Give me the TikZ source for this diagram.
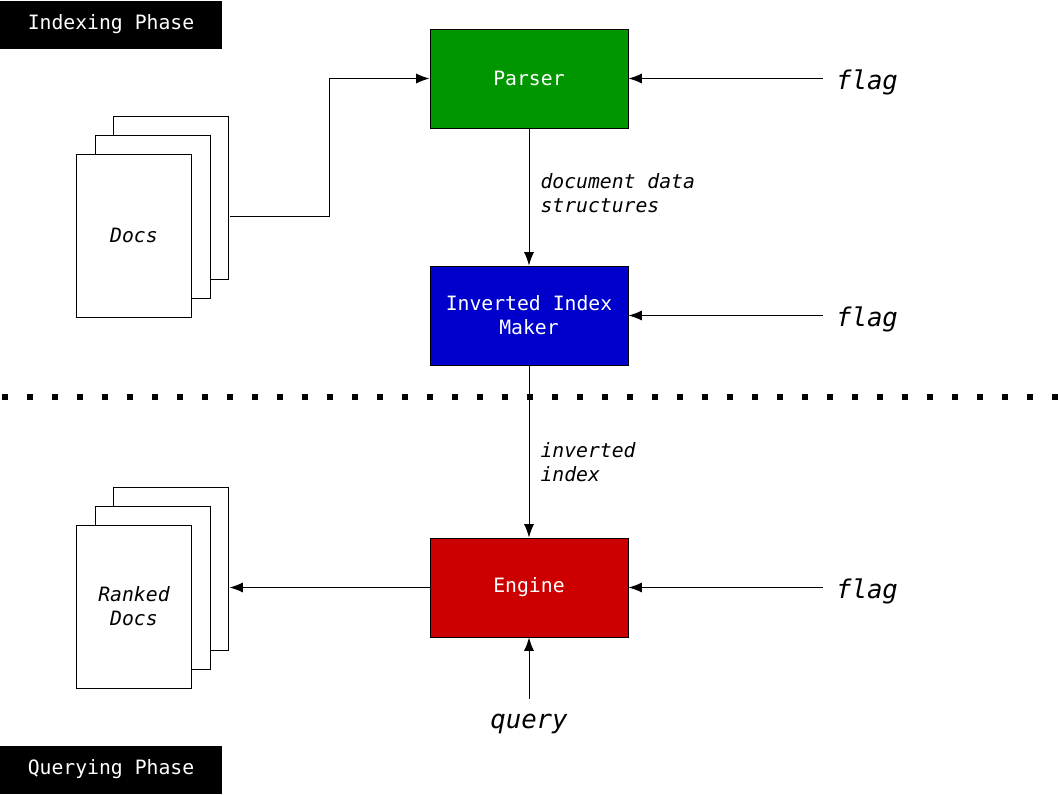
\documentclass[tikz,border=0pt]{standalone}
\usepackage{fontspec}
\setmainfont{DejaVu Sans Mono}
\usetikzlibrary{arrows.meta,fit}

\definecolor{parsergreen}{RGB}{0,150,0}
\definecolor{makerblue}{RGB}{0,0,204}
\definecolor{enginered}{RGB}{204,0,0}

\begin{document}
\begin{tikzpicture}[x=0.75pt, y=-0.75pt, line width=0.75pt,
  >={Latex[length=10pt,width=7.5pt]},
  box/.style={draw, minimum width=148.5pt, minimum height=74.25pt, text=white, align=center, font=\fontsize{14.8}{18}\selectfont},
  page/.style={draw, fill=white, minimum width=86.25pt, minimum height=122.25pt, inner sep=0pt, align=center, font=\fontsize{14.8}{18}\selectfont\itshape},
  phase/.style={fill=black, text=white, minimum width=165.75pt, minimum height=36pt, inner sep=0pt, font=\fontsize{14.8}{18}\selectfont},
  flagtext/.style={inner xsep=9.5pt, font=\fontsize{19.3}{23}\selectfont\itshape},
  lbl/.style={anchor=west, inner sep=0pt, xshift=8.25pt, align=left, font=\fontsize{14.8}{18}\selectfont\itshape}]
  \useasboundingbox (0,0) rectangle (1058,794);

  % Fases
  \node[phase, anchor=north west] (idx) at (0,0) {Indexing Phase};
  \node[phase, anchor=south west] (qry) at (0,794) {Querying Phase};
  \draw[line width=4.5pt, dash pattern=on 4.5pt off 14.25pt] (2,397) -- (1058,397);

  % Caixas
  \node[box, fill=parsergreen] (parser) at (529,78.5) {Parser};
  \node[box, fill=makerblue] (maker) at (529,315.5) {Inverted Index\\Maker};
  \node[box, fill=enginered] (engine) at (529,587.5) {Engine};

  % Documentos
  \node[page] (docsC) at (171,197.5) {};
  \node[page] (docsB) at (152.5,216.5) {};
  \node[page] (docsA) at (134,235.5) {Docs};
  \node[fit=(docsA)(docsC), inner sep=0pt] (docs) {};
  \node[page] (rankC) at (171,568.5) {};
  \node[page] (rankB) at (152.5,587.5) {};
  \node[page] (rankA) at (134,606.5) {Ranked\\Docs};
  \node[fit=(rankA)(rankC), inner sep=0pt] (ranked) {};

  % Entradas
  \node[flagtext] (flagp) at (867,82) {flag};
  \node[flagtext] (flagm) at (867,319) {flag};
  \node[flagtext] (flage) at (867,591) {flag};
  \node[flagtext, inner ysep=11pt] (query) at (529,724) {query};

  % Fluxo
  \draw[->] (docs.east) -- ++(100,0) |- (parser.west);
  \draw[->] (parser) -- node[lbl, pos=0.47]{document data\\structures} (maker);
  \draw[->] (maker) -- node[lbl, pos=0.56]{inverted\\index} (engine);
  \draw[->] (engine) -- (ranked);
  \draw[->] (flagp.west |- parser.east) -- (parser.east);
  \draw[->] (flagm.west |- maker.east) -- (maker.east);
  \draw[->] (flage.west |- engine.east) -- (engine.east);
  \draw[->] (query) -- (engine);
\end{tikzpicture}
\end{document}
